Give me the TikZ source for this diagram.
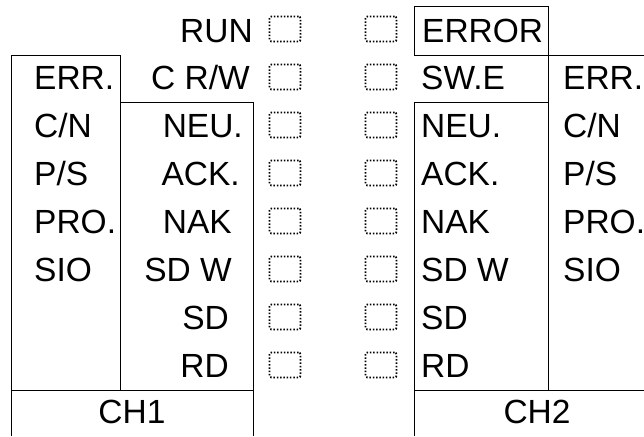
\documentclass[tikz,border=0pt]{standalone}
\usepackage{fontspec}
\setmainfont{Liberation Sans}
\usepackage{tikz}
\usetikzlibrary{positioning}
\tikzset{
  tag/.style={inner sep=0pt,anchor=base west,font=\fontsize{33.5}{36}\selectfont},
  rtag/.style={tag,anchor=base east},
  ctag/.style={tag,anchor=base},
  lamp/.style={draw,line width=1.8pt,dash pattern=on 1.5pt off 1.8pt,rounded corners=2pt,
    minimum width=31pt,minimum height=25pt,inner sep=0pt},
  frame/.style={line width=1pt}
}

\begin{document}
\begin{tikzpicture}[x=1pt,y=-1pt]
    \useasboundingbox (0,0) rectangle (644,436);

    % CH1 panel
    \draw[frame] (11,436) -- (11,55) -- (120,55) -- (120,390);
    \draw[frame] (120,102) -- (253,102) -- (253,436);
    \draw[frame] (11,390) -- (253,390);

    % CH2 panel
    \draw[frame] (414,7) rectangle (548,55);
    \draw[frame] (548,55) -- (644,55);
    \draw[frame] (548,55) -- (548,390);
    \draw[frame] (414,102) -- (548,102);
    \draw[frame] (414,102) -- (414,436);
    \draw[frame] (414,390) -- (644,390);

    % lamps
    \foreach \i/\y in {1/29,2/77,3/125,4/173,5/221,6/269,7/317,8/365}{
        \node[lamp] (la\i) at (285,\y) {};
        \node[lamp] (lb\i) at (381,\y) {};
    }

    % CH1 labels
    \node[rtag] (run)  at (253,42)  {RUN};
    \node[rtag] (crw)  at (250,89)  {C R/W};
    \node[rtag] (neua) at (243,137) {NEU.};
    \node[rtag] (acka) at (240,185) {ACK.};
    \node[rtag] (naka) at (232,233) {NAK};
    \node[rtag] (sdwa) at (232,281) {SD W};
    \node[rtag] (sda)  at (229,329) {SD};
    \node[rtag] (rda)  at (229,377) {RD};

    \node[tag] (erra) at (34,89)  {ERR.};
    \node[tag] (cna)  at (34,137) {C/N};
    \node[tag] (psa)  at (34,185) {P/S};
    \node[tag] (proa) at (34,233) {PRO.};
    \node[tag] (sioa) at (34,281) {SIO};

    \node[ctag] (cha) at (132,423) {CH1};

    % CH2 labels
    \node[tag] (error) at (422,42)  {ERROR};
    \node[tag] (swe)   at (421,89)  {SW.E};
    \node[tag] (neub)  at (421,137) {NEU.};
    \node[tag] (ackb)  at (421,185) {ACK.};
    \node[tag] (nakb)  at (421,233) {NAK};
    \node[tag] (sdwb)  at (421,281) {SD W};
    \node[tag] (sdb)   at (421,329) {SD};
    \node[tag] (rdb)   at (421,377) {RD};

    \node[tag] (errb) at (563,89)  {ERR.};
    \node[tag] (cnb)  at (563,137) {C/N};
    \node[tag] (psb)  at (563,185) {P/S};
    \node[tag] (prob) at (563,233) {PRO.};
    \node[tag] (siob) at (563,281) {SIO};

    \node[ctag] (chb) at (537,423) {CH2};
\end{tikzpicture}
\end{document}
